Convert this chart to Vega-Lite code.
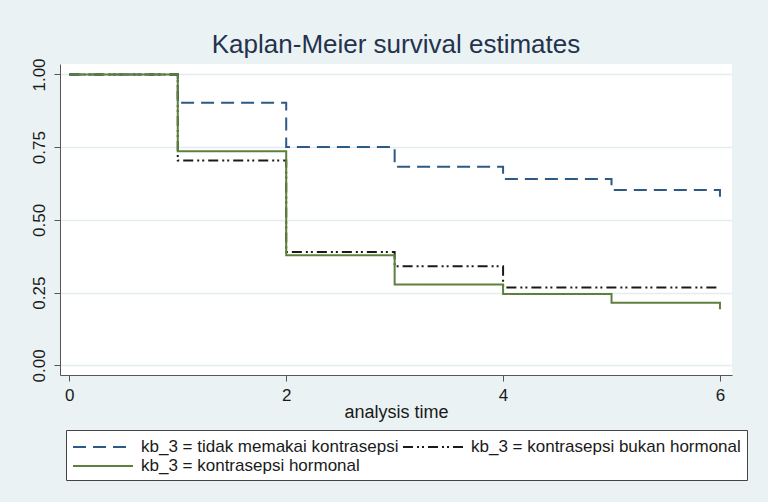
{
  "$schema": "https://vega.github.io/schema/vega-lite/v6.json",
  "width": 672,
  "height": 311,
  "autosize": {"type": "none"},
  "padding": {"left": 60, "top": 64, "right": 36, "bottom": 127},
  "background": "#eaf2f3",
  "config": {"font": "Liberation Sans", "view": {"fill": "white", "stroke": null}},
  "title": {"text": "Kaplan-Meier survival estimates", "fontSize": 26, "fontWeight": "normal", "color": "#24324f", "anchor": "middle", "offset": 0, "font": "Liberation Sans"},
  "data": {"values": [
    {"group": "kb_3 = tidak memakai kontrasepsi", "time": 0, "survival": 1.0},
    {"group": "kb_3 = tidak memakai kontrasepsi", "time": 1, "survival": 0.903},
    {"group": "kb_3 = tidak memakai kontrasepsi", "time": 2, "survival": 0.751},
    {"group": "kb_3 = tidak memakai kontrasepsi", "time": 3, "survival": 0.683},
    {"group": "kb_3 = tidak memakai kontrasepsi", "time": 4, "survival": 0.641},
    {"group": "kb_3 = tidak memakai kontrasepsi", "time": 5, "survival": 0.603},
    {"group": "kb_3 = tidak memakai kontrasepsi", "time": 6, "survival": 0.571},
    {"group": "kb_3 = kontrasepsi bukan hormonal", "time": 0, "survival": 1.0},
    {"group": "kb_3 = kontrasepsi bukan hormonal", "time": 1, "survival": 0.704},
    {"group": "kb_3 = kontrasepsi bukan hormonal", "time": 2, "survival": 0.390},
    {"group": "kb_3 = kontrasepsi bukan hormonal", "time": 3, "survival": 0.341},
    {"group": "kb_3 = kontrasepsi bukan hormonal", "time": 4, "survival": 0.268},
    {"group": "kb_3 = kontrasepsi bukan hormonal", "time": 5, "survival": 0.268},
    {"group": "kb_3 = kontrasepsi bukan hormonal", "time": 6, "survival": 0.268},
    {"group": "kb_3 = kontrasepsi hormonal", "time": 0, "survival": 1.0},
    {"group": "kb_3 = kontrasepsi hormonal", "time": 1, "survival": 0.736},
    {"group": "kb_3 = kontrasepsi hormonal", "time": 2, "survival": 0.379},
    {"group": "kb_3 = kontrasepsi hormonal", "time": 3, "survival": 0.278},
    {"group": "kb_3 = kontrasepsi hormonal", "time": 4, "survival": 0.245},
    {"group": "kb_3 = kontrasepsi hormonal", "time": 5, "survival": 0.215},
    {"group": "kb_3 = kontrasepsi hormonal", "time": 6, "survival": 0.193}
  ]},
  "mark": {"type": "line", "interpolate": "step-after", "strokeWidth": 2},
  "encoding": {
    "x": {
      "field": "time", "type": "quantitative",
      "scale": {"domain": [-0.086, 6.111], "nice": false, "zero": false},
      "axis": {"values": [0, 2, 4, 6], "format": "d", "title": "analysis time", "grid": false,
        "domainColor": "#555555", "tickColor": "#555555", "tickSize": 6,
        "labelFontSize": 17, "labelColor": "#1a1a1a", "labelPadding": 6,
        "titleFontSize": 18, "titleFontWeight": "normal", "titleColor": "#1a1a1a", "titlePadding": 0}
    },
    "y": {
      "field": "survival", "type": "quantitative",
      "scale": {"domain": [-0.033, 1.036], "nice": false, "zero": false},
      "axis": {"values": [0, 0.25, 0.5, 0.75, 1], "format": ".2f", "title": null, "grid": true,
        "gridColor": "#e3ecef", "gridWidth": 1.5,
        "domainColor": "#555555", "tickColor": "#555555", "tickSize": 6,
        "labelAngle": -90, "labelAlign": "center", "labelBaseline": "alphabetic", "labelPadding": 10,
        "labelFontSize": 17, "labelColor": "#1a1a1a"}
    },
    "color": {
      "field": "group", "type": "nominal",
      "scale": {"domain": ["kb_3 = tidak memakai kontrasepsi", "kb_3 = kontrasepsi bukan hormonal", "kb_3 = kontrasepsi hormonal"],
        "range": ["#2c5a85", "#1a1a1a", "#5f7f3c"]},
      "legend": {"title": null, "orient": "none", "legendX": 6, "legendY": 366, "columns": 2, "direction": "horizontal",
        "symbolType": "M-1,0H5", "symbolSize": 400, "symbolStrokeWidth": 2,
        "labelFontSize": 17, "labelOffset": 47, "labelLimit": 1000, "labelColor": "#1a1a1a",
        "columnPadding": 0, "rowPadding": -2, "padding": 6,
        "strokeColor": "#444444", "fillColor": "white"}
    },
    "strokeDash": {
      "field": "group", "type": "nominal",
      "scale": {"domain": ["kb_3 = tidak memakai kontrasepsi", "kb_3 = kontrasepsi bukan hormonal", "kb_3 = kontrasepsi hormonal"],
        "range": [[13, 7], [10, 4, 2, 3, 2, 4], [1, 0]]},
      "legend": {"title": null, "orient": "none", "legendX": 6, "legendY": 366, "columns": 2, "direction": "horizontal",
        "symbolType": "M-1,0H5", "symbolSize": 400, "symbolStrokeWidth": 2,
        "labelFontSize": 17, "labelOffset": 47, "labelLimit": 1000, "labelColor": "#1a1a1a",
        "columnPadding": 0, "rowPadding": -2, "padding": 6,
        "strokeColor": "#444444", "fillColor": "white"}
    }
  }
}
